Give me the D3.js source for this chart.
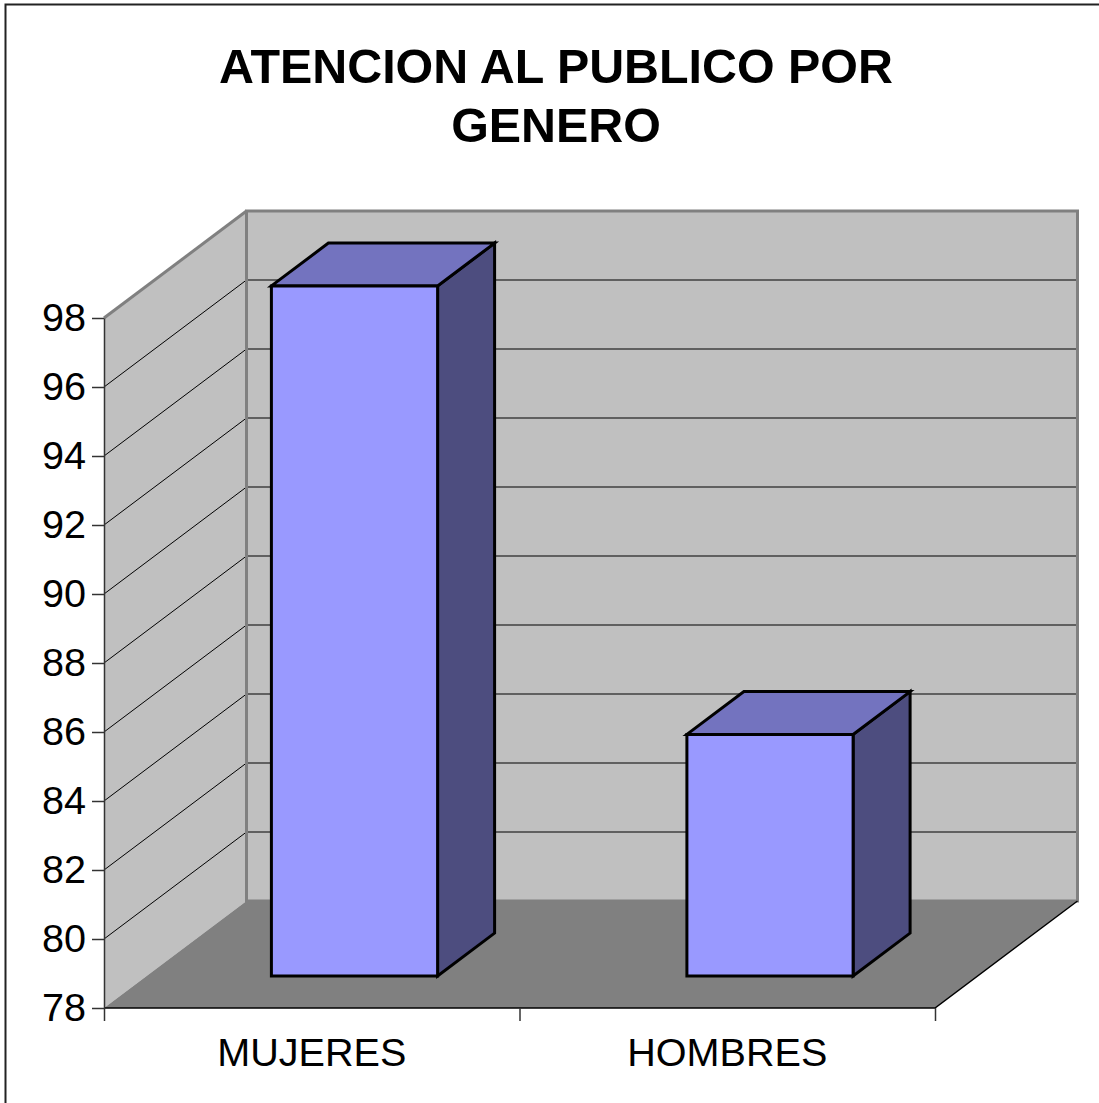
<!DOCTYPE html>
<html>
<head>
<meta charset="utf-8">
<script src="https://cdn.jsdelivr.net/npm/d3@7"></script>
<style>
  html, body { margin: 0; padding: 0; background: #fff; }
  svg { display: block; font-family: "Liberation Sans", Arial, sans-serif; }
</style>
</head>
<body>
<svg width="1099" height="1103"></svg>
<script>
const categories = ['MUJERES', 'HOMBRES'];
const values = [98, 85];
const yTicks = [78, 80, 82, 84, 86, 88, 90, 92, 94, 96, 98];
const titleLines = ['ATENCION AL PUBLICO POR', 'GENERO'];

const svg = d3.select('svg');

const x = d3.scaleBand().domain(categories).range([104, 935]).paddingInner(0).paddingOuter(0);
const y = d3.scaleLinear().domain([78, 98]).range([1008, 318]);
// depth goes from front plane (0) to back wall (1)
const depthX = d3.scaleLinear().domain([0, 1]).range([0, 142.5]);
const depthY = d3.scaleLinear().domain([0, 1]).range([0, -107]);

const pt = (px, val, z) => [px + depthX(z), y(val) + depthY(z)];
const line = d3.line();
const poly = pts => line(pts) + 'Z';

const xMin = x.range()[0];
const xMax = x.range()[1];
const yMin = yTicks[0];
const yMax = yTicks[yTicks.length - 1];

// frame, only top and left fall inside the picture
svg.append('rect')
  .attr('x', 5.5).attr('y', 4.5)
  .attr('width', 1200).attr('height', 1200)
  .attr('fill', 'none').attr('stroke', '#222').attr('stroke-width', 2);

// title
svg.append('g').selectAll('text').data(titleLines)
  .enter().append('text')
    .attr('x', 556)
    .attr('y', (d, i) => 83 + i * 59)
    .attr('text-anchor', 'middle')
    .attr('font-size', 48.4)
    .attr('font-weight', 'bold')
    .text(d => d);

// side wall, back wall, floor
svg.append('path')
  .attr('d', poly([pt(xMin, yMin, 0), pt(xMin, yMax, 0), pt(xMin, yMax, 1), pt(xMin, yMin, 1)]))
  .attr('fill', '#c0c0c0');
svg.append('path')
  .attr('d', poly([pt(xMin, yMin, 1), pt(xMin, yMax, 1), pt(xMax, yMax, 1), pt(xMax, yMin, 1)]))
  .attr('fill', '#c0c0c0');
svg.append('path')
  .attr('d', poly([pt(xMin, yMin, 0), pt(xMin, yMin, 1), pt(xMax, yMin, 1), pt(xMax, yMin, 0)]))
  .attr('fill', '#808080');

// gridlines
svg.append('g').selectAll('path').data(yTicks.slice(1, -1))
  .enter().append('path')
    .attr('d', d => line([pt(xMin, d, 0), pt(xMin, d, 1), pt(xMax, d, 1)]))
    .attr('fill', 'none')
    .attr('stroke', '#000')
    .attr('stroke-width', 1);

// wall outlines in grey
svg.append('path')
  .attr('d', poly([pt(xMin, yMin, 1), pt(xMin, yMax, 1), pt(xMax, yMax, 1), pt(xMax, yMin, 1)]))
  .attr('fill', 'none').attr('stroke', '#808080').attr('stroke-width', 3);
svg.append('path')
  .attr('d', line([pt(xMin, yMax, 0), pt(xMin, yMax, 1)]))
  .attr('fill', 'none').attr('stroke', '#808080').attr('stroke-width', 3);

// floor front edges
svg.append('path')
  .attr('d', line([pt(xMax, yMin, 1), pt(xMax, yMin, 0), pt(xMin, yMin, 0)]))
  .attr('fill', 'none').attr('stroke', '#000').attr('stroke-width', 1.5);

// bars: front at depth .3, back at depth .7, width 40% of the band
const barFront = 0.3;
const barBack = 0.7;
const barInset = x.bandwidth() * 0.3;
const barW = x.bandwidth() * 0.4;

const bars = svg.append('g').selectAll('g').data(categories)
  .enter().append('g')
    .attr('stroke', '#000')
    .attr('stroke-width', 3)
    .attr('stroke-linejoin', 'miter');

const barX0 = (d) => x(d) + barInset;
const val = (d) => values[categories.indexOf(d)];

bars.append('path')
  .attr('fill', '#4d4d7f')
  .attr('d', d => poly([
    pt(barX0(d) + barW, yMin, barFront), pt(barX0(d) + barW, val(d), barFront),
    pt(barX0(d) + barW, val(d), barBack), pt(barX0(d) + barW, yMin, barBack)
  ]));
bars.append('path')
  .attr('fill', '#7373bf')
  .attr('d', d => poly([
    pt(barX0(d), val(d), barFront), pt(barX0(d), val(d), barBack),
    pt(barX0(d) + barW, val(d), barBack), pt(barX0(d) + barW, val(d), barFront)
  ]));
bars.append('path')
  .attr('fill', '#9999ff')
  .attr('d', d => poly([
    pt(barX0(d), yMin, barFront), pt(barX0(d), val(d), barFront),
    pt(barX0(d) + barW, val(d), barFront), pt(barX0(d) + barW, yMin, barFront)
  ]));

// y axis
const yAxis = svg.append('g')
  .attr('transform', `translate(${xMin}, 0)`)
  .call(d3.axisLeft(y).tickValues(yTicks).tickSize(12).tickPadding(6).tickSizeOuter(0));
yAxis.selectAll('.domain, .tick line').attr('stroke', '#333').attr('stroke-width', 1.5);
yAxis.selectAll('text').attr('font-size', 39.6).attr('font-family', '"Liberation Sans", Arial, sans-serif').attr('fill', '#000');

// x axis, ticks sit on the band edges so labels are drawn on their own
const xEdges = d3.scaleLinear().domain([0, categories.length]).range(x.range());
const xTickAxis = svg.append('g')
  .attr('transform', `translate(0, ${y(yMin)})`)
  .call(d3.axisBottom(xEdges).tickValues(d3.range(categories.length + 1)).tickSize(13).tickSizeOuter(0).tickFormat(''));
xTickAxis.select('.domain').remove();
xTickAxis.selectAll('.tick line').attr('stroke', '#333').attr('stroke-width', 1.5);

const xLabelAxis = svg.append('g')
  .attr('transform', `translate(0, ${y(yMin)})`)
  .call(d3.axisBottom(x).tickSize(0).tickPadding(30));
xLabelAxis.select('.domain').remove();
xLabelAxis.selectAll('text').attr('font-size', 39.6).attr('font-family', '"Liberation Sans", Arial, sans-serif').attr('fill', '#000');
</script>
</body>
</html>
